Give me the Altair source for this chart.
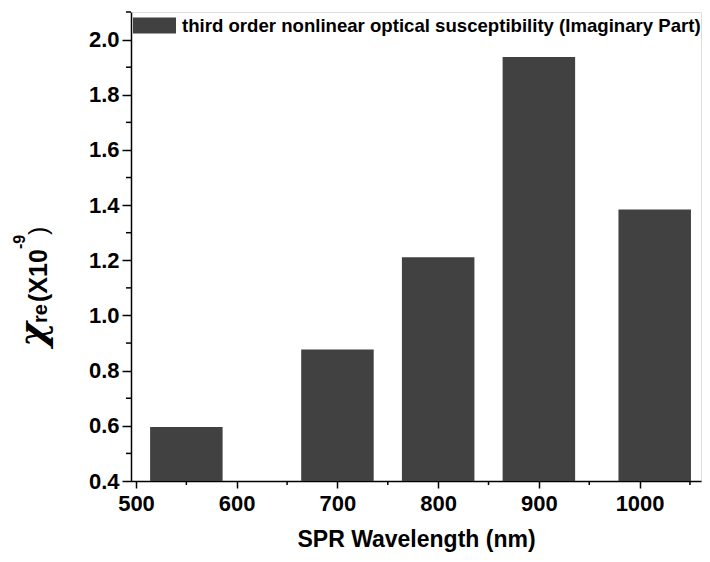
import altair as alt
import pandas as pd

# ---- data ----
wavelength = [550, 700, 800, 900, 1015]
chi_im = [0.596, 0.877, 1.211, 1.937, 1.384]
series_name = "third order nonlinear optical susceptibility (Imaginary Part)"

x_major = [500, 600, 700, 800, 900, 1000]
x_minor = [550, 650, 750, 850, 950, 1050]
y_major = [0.4, 0.6, 0.8, 1.0, 1.2, 1.4, 1.6, 1.8, 2.0]
y_minor = [0.5, 0.7, 0.9, 1.1, 1.3, 1.5, 1.7, 1.9, 2.1]

df = pd.DataFrame({"wl": wavelength, "chi": chi_im, "series": [series_name] * len(wavelength)})
xminor_df = pd.DataFrame({"wl": x_minor})
yminor_df = pd.DataFrame({"chi": y_minor})
one = pd.DataFrame({"k": [0]})

W, H = 570, 469
FONT = "Liberation Sans"
BAR = "#414141"

xscale = alt.Scale(domain=[500, 1056], nice=False, zero=False)
yscale = alt.Scale(domain=[0.4, 2.1], nice=False, zero=False)

xaxis = alt.Axis(values=x_major, title="SPR Wavelength (nm)", format="d",
                 tickSize=7, tickWidth=1.5, tickColor="black",
                 domainColor="black", domainWidth=1.5,
                 labelFont=FONT, labelFontSize=22, labelFontWeight="bold",
                 labelColor="black", labelPadding=5,
                 titleFont=FONT, titleFontSize=23, titleFontWeight="bold",
                 titleColor="black", titleBaseline="alphabetic", titleY=65,
                 grid=False)
yaxis = alt.Axis(values=y_major, title=None, format=".1f",
                 tickSize=9, tickWidth=1.5, tickColor="black",
                 domainColor="black", domainWidth=1.5,
                 labelFont=FONT, labelFontSize=22, labelFontWeight="bold",
                 labelColor="black", labelPadding=3, grid=False)

bars = alt.Chart(df).mark_bar(width=72.5).encode(
    x=alt.X("wl:Q", scale=xscale, axis=xaxis),
    y=alt.Y("chi:Q", scale=yscale, axis=yaxis),
    y2=alt.datum(0.4),
    color=alt.Color("series:N", scale=alt.Scale(range=[BAR]),
                    legend=alt.Legend(title=None, orient="none", legendX=2, legendY=-8,
                                      symbolType="M-1,-0.372H1V0.372H-1Z",
                                      symbolSize=1849, symbolStrokeWidth=0,
                                      symbolOpacity=1, labelOffset=6,
                                      labelFont=FONT, labelFontSize=18.6,
                                      labelFontWeight="bold", labelColor="black",
                                      labelLimit=700, padding=0)),
)

xminor = alt.Chart(xminor_df).mark_rule(color="black", strokeWidth=1.5).encode(
    x=alt.X("wl:Q", scale=xscale, axis=xaxis),
    y=alt.value(H), y2=alt.value(H + 4),
)
yminor = alt.Chart(yminor_df).mark_rule(color="black", strokeWidth=1.5).encode(
    y=alt.Y("chi:Q", scale=yscale, axis=yaxis),
    x=alt.value(-5), x2=alt.value(0),
)

def piece(txt, x, y, size, weight="bold", font=FONT, style="normal", baseline="alphabetic"):
    return alt.Chart(one).mark_text(
        text=txt, angle=270, align="left", baseline=baseline,
        font=font, fontSize=size, fontWeight=weight, fontStyle=style, color="black",
    ).encode(x=alt.value(x), y=alt.value(y))

# y-axis title built from pieces (chi with sub- and superscripts), origin = plot top-left (131, 12)
ytitle = (
    piece("χ", -86.5, 335, 38, font="DejaVu Serif", style="italic")
    + piece("re", -84, 311, 20)
    + piece("(X10", -84, 290, 25)
    + piece("-9", -106, 237, 16)
    + piece(")", -84, 223, 25, "normal")
)

chart = alt.layer(bars, xminor, yminor, ytitle).properties(
    width=W, height=H,
    autosize=alt.AutoSizeParams(type="none"),
    padding={"left": 123, "top": 4, "right": 1, "bottom": 72},
).configure_view(stroke="#888888", strokeWidth=1).configure(background="white")

chart.save("out.html", embed_options={"renderer": "svg", "actions": False})
